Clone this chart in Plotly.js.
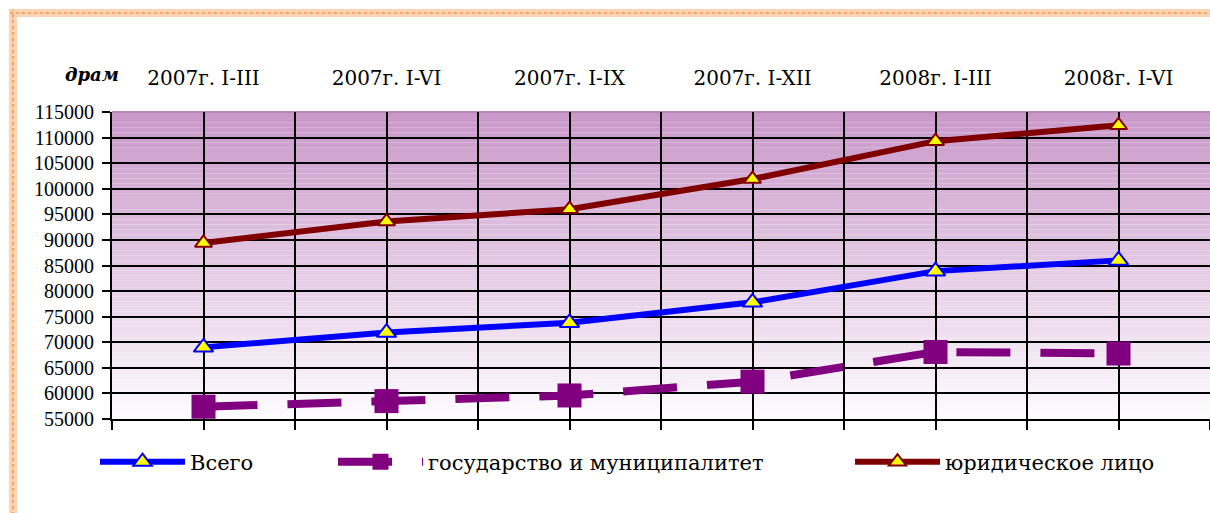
<!DOCTYPE html>
<html><head><meta charset="utf-8">
<script src="https://cdn.plot.ly/plotly-3.0.1.min.js"></script>
<style>
html,body{margin:0;padding:0;background:#fff}
#chart{width:1210px;height:513px}
</style>
</head><body><div id="chart"></div><script>
// ---- data ----
const categories = ["2007г. I-III","2007г. I-VI","2007г. I-IX","2007г. I-XII","2008г. I-III","2008г. I-VI"];
const vsego = [69000, 71900, 73800, 77800, 83900, 86000];
const gos   = [57400, 58500, 59600, 62300, 68100, 67800];
const yur   = [89400, 93600, 96000, 101900, 109300, 112400];
const seriesNames = ["Всего", "государство и муниципалитет", "юридическое лицо"];
const unitLabel = "драм";
const yMin = 55000, yMax = 115000, yStep = 5000;

// ---- layout geometry ----
const W = 1210, H = 513, L = 112, T = 112, R = 0, B = 94;
const pw = W - L - R, ph = H - T - B;
const px2x = p => (p - L) / pw;
const px2y = p => (H - B - p) / ph;
const xIdx = categories.map((c, i) => i);

const serif = "DejaVu Serif, serif";
const numFont = "Liberation Serif, serif";

// background gradient strips (style only)
const shapes = [];
const nStrips = 60;
const gradTop = [201, 152, 201], gradBot = [253, 251, 254];
for (let k = 0; k < nStrips; k++) {
  const t = k / (nStrips - 1);
  const c = gradTop.map((v, j) => Math.round(v + (gradBot[j] - v) * t));
  shapes.push({type: 'rect', xref: 'paper', yref: 'paper', layer: 'below',
    x0: 0, x1: 1, y0: 1 - (k + 1) / nStrips, y1: 1 - k / nStrips,
    fillcolor: `rgb(${c[0]},${c[1]},${c[2]})`, line: {width: 0}});
}
// top plot edge
shapes.push({type: 'line', xref: 'paper', yref: 'paper', x0: 0, x1: 1, y0: 1, y1: 1,
  line: {color: '#b58ab5', width: 2}, layer: 'below'});
// decorative orange frame
const frameFill = '#fcd4b4', frameDot = '#f6a468';
shapes.push({type: 'rect', xref: 'paper', yref: 'paper', x0: px2x(9), x1: px2x(1212),
  y0: px2y(17), y1: px2y(9), fillcolor: frameFill, line: {width: 0}});
shapes.push({type: 'rect', xref: 'paper', yref: 'paper', x0: px2x(9), x1: px2x(17),
  y0: px2y(515), y1: px2y(9), fillcolor: frameFill, line: {width: 0}});
shapes.push({type: 'line', xref: 'paper', yref: 'paper', x0: px2x(10), x1: px2x(1212),
  y0: px2y(13), y1: px2y(13), line: {color: frameDot, width: 2, dash: 'dot'}});
shapes.push({type: 'line', xref: 'paper', yref: 'paper', x0: px2x(13), x1: px2x(13),
  y0: px2y(515), y1: px2y(10), line: {color: frameDot, width: 2, dash: 'dot'}});

const traces = [
  {x: xIdx, y: vsego, name: seriesNames[0], type: 'scatter', mode: 'lines+markers',
   line: {color: '#0000ff', width: 6},
   marker: {symbol: 'triangle-up', size: 17, color: '#ffff00', line: {color: '#0000ff', width: 2}},
   legend: 'legend', cliponaxis: false},
  {x: xIdx, y: gos, name: seriesNames[1], type: 'scatter', mode: 'lines+markers',
   line: {color: '#800080', width: 8, dash: '54px,30px'},
   marker: {symbol: 'square', size: 24, color: '#800080', line: {width: 0}},
   legend: 'legend2', cliponaxis: false},
  {x: xIdx, y: yur, name: seriesNames[2], type: 'scatter', mode: 'lines+markers',
   line: {color: '#800000', width: 6},
   marker: {symbol: 'triangle-up', size: 15, color: '#ffff00', line: {color: '#800000', width: 2}},
   legend: 'legend3', cliponaxis: false},
  {x: [], y: [], xaxis: 'x2', showlegend: false, hoverinfo: 'skip', type: 'scatter'}
];

const legendBase = {orientation: 'h', yanchor: 'middle', xanchor: 'left', y: px2y(462),
  font: {family: serif, size: 21, color: '#000'}, itemwidth: 85, bgcolor: 'rgba(0,0,0,0)', borderwidth: 0};

const layout = {
  width: W, height: H,
  margin: {l: L, r: R, t: T, b: B, pad: 0},
  paper_bgcolor: '#ffffff', plot_bgcolor: 'rgba(0,0,0,0)',
  showlegend: true,
  legend:  Object.assign({}, legendBase, {x: px2x(95)}),
  legend2: Object.assign({}, legendBase, {x: px2x(333)}),
  legend3: Object.assign({}, legendBase, {x: px2x(850)}),
  xaxis: {range: [-0.5, 5.5], tickvals: xIdx, showticklabels: false,
    showgrid: true, gridcolor: '#000', gridwidth: 2, zeroline: false,
    showline: true, linecolor: '#000', linewidth: 2,
    ticks: '', minor: {dtick: 0.5, tick0: -0.5, showgrid: true, gridcolor: '#000', gridwidth: 2,
      ticks: 'outside', ticklen: 9, tickwidth: 2, tickcolor: '#000'}},
  xaxis2: {overlaying: 'x', matches: 'x', side: 'top', anchor: 'y', range: [-0.5, 5.5],
    tickvals: xIdx, ticktext: categories, showgrid: false, zeroline: false, ticks: '',
    ticklabelstandoff: 22, tickfont: {family: serif, size: 20, color: '#000'}},
  yaxis: {range: [yMin, yMax], dtick: yStep, tick0: yMin, tickformat: 'd',
    showgrid: true, gridcolor: '#000', gridwidth: 2, zeroline: false,
    showline: true, linecolor: '#000', linewidth: 2,
    ticks: 'outside', ticklen: 8, tickwidth: 2, tickcolor: '#000', ticklabelstandoff: 4,
    tickfont: {family: numFont, size: 20, color: '#000'}},
  shapes: shapes,
  annotations: [{xref: 'paper', yref: 'paper', x: px2x(92), y: px2y(75), showarrow: false,
    text: '<b><i>' + unitLabel + '</i></b>', font: {family: serif, size: 18, color: '#000'},
    xanchor: 'center', yanchor: 'middle'}]
};

Plotly.newPlot('chart', traces, layout, {displayModeBar: false, staticPlot: true});
</script></body></html>
